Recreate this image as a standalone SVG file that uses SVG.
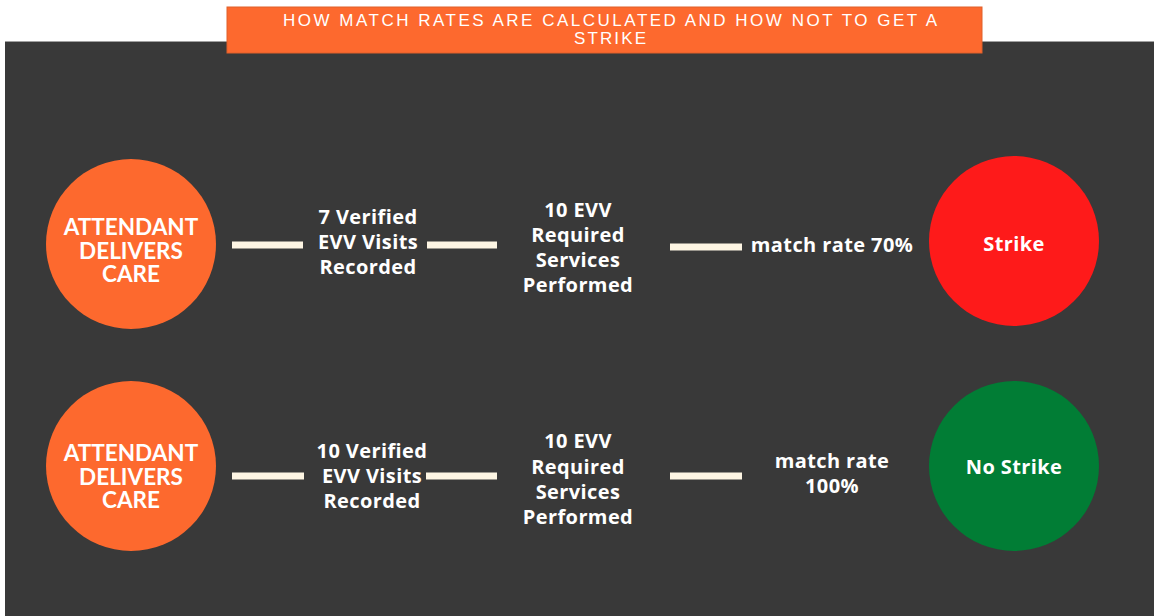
<svg xmlns="http://www.w3.org/2000/svg" width="1154" height="616" viewBox="0 0 1154 616">
<style>
.t{font-family:Lato,"Liberation Sans",sans-serif;font-weight:700;fill:#ffffff;text-anchor:middle}
.big{font-size:22.5px}
.mid{font-family:"Open Sans","Liberation Sans",sans-serif;font-size:20px;letter-spacing:0.4px}
.title{font-family:"Liberation Sans",Arial,sans-serif;font-size:17px;fill:#ffffff;text-anchor:middle}
.conn{stroke:#fdf5e3;stroke-width:7;fill:none}
</style>
<rect x="0" y="0" width="1154" height="616" fill="#ffffff"/>
<rect id="background" x="5" y="41" width="1149" height="575" fill="#393939"/>
<line x1="5" y1="41.5" x2="1154" y2="41.5" stroke="#a0a0a0" stroke-width="1"/>
<g id="title">
<rect x="227" y="7" width="755" height="46" fill="#fd692e" stroke="#e0602a" stroke-width="1"/>
<text class="title" x="610" y="26" textLength="654" lengthAdjust="spacing">HOW MATCH RATES ARE CALCULATED AND HOW NOT TO GET A</text>
<text class="title" x="610" y="44" textLength="72" lengthAdjust="spacing">STRIKE</text>
</g>
<g id="connectors">
<line class="conn" x1="232" y1="245" x2="303" y2="245"/>
<line class="conn" x1="427" y1="245" x2="497" y2="245"/>
<line class="conn" x1="670" y1="247" x2="742" y2="247"/>
<line class="conn" x1="232" y1="476" x2="304" y2="476"/>
<line class="conn" x1="426" y1="476" x2="497" y2="476"/>
<line class="conn" x1="670" y1="476" x2="742" y2="476"/>
</g>
<g id="attendant1">
<circle cx="131" cy="244" r="85" fill="#fd692e"/>
<text class="t big" x="131" y="235">ATTENDANT</text>
<text class="t big" x="131" y="259">DELIVERS</text>
<text class="t big" x="131" y="282">CARE</text>
</g>
<g id="verified1">
<text class="t mid" x="368" y="224">7 Verified</text>
<text class="t mid" x="368" y="249">EVV Visits</text>
<text class="t mid" x="368" y="274">Recorded</text>
</g>
<g id="required1">
<text class="t mid" x="578" y="217">10 EVV</text>
<text class="t mid" x="578" y="242">Required</text>
<text class="t mid" x="578" y="267">Services</text>
<text class="t mid" x="578" y="292">Performed</text>
</g>
<g id="rate1">
<text class="t mid" x="832" y="252">match rate 70%</text>
</g>
<g id="strike">
<circle cx="1014" cy="241" r="85" fill="#fe1a1a"/>
<text class="t mid" x="1014" y="251">Strike</text>
</g>
<g id="attendant2">
<circle cx="131" cy="466" r="85" fill="#fd692e"/>
<text class="t big" x="131" y="461">ATTENDANT</text>
<text class="t big" x="131" y="485">DELIVERS</text>
<text class="t big" x="131" y="508">CARE</text>
</g>
<g id="verified2">
<text class="t mid" x="372" y="458">10 Verified</text>
<text class="t mid" x="372" y="483">EVV Visits</text>
<text class="t mid" x="372" y="508">Recorded</text>
</g>
<g id="required2">
<text class="t mid" x="578" y="448">10 EVV</text>
<text class="t mid" x="578" y="474">Required</text>
<text class="t mid" x="578" y="499">Services</text>
<text class="t mid" x="578" y="524">Performed</text>
</g>
<g id="rate2">
<text class="t mid" x="832" y="468">match rate</text>
<text class="t mid" x="832" y="493">100%</text>
</g>
<g id="nostrike">
<circle cx="1014" cy="466" r="85" fill="#017d35"/>
<text class="t mid" x="1014" y="474">No Strike</text>
</g>
</svg>
